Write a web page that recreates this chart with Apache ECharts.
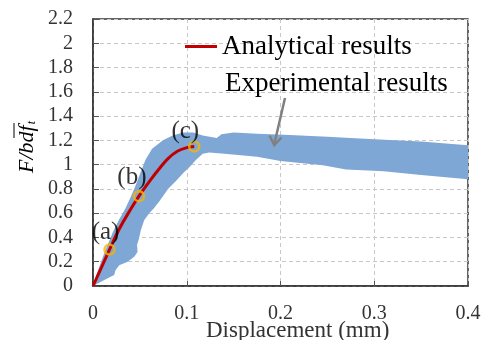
<!DOCTYPE html>
<html>
<head>
<meta charset="utf-8">
<script src="https://cdn.jsdelivr.net/npm/echarts@6/dist/echarts.min.js"></script>
<style>html,body{margin:0;padding:0;background:#fff}#c{width:484px;height:340px}</style>
</head>
<body>
<div id="c"></div>
<script>
// ---- data ----
var xTicks = [0, 0.1, 0.2, 0.3, 0.4];
var yTicks = [0, 0.2, 0.4, 0.6, 0.8, 1, 1.2, 1.4, 1.6, 1.8, 2, 2.2];
var analyticalX = [0, 0.01, 0.0176, 0.028, 0.04, 0.049, 0.06, 0.07, 0.08, 0.09, 0.1, 0.108];
var analyticalY = [0, 0.17, 0.30, 0.47, 0.63, 0.74, 0.86, 0.96, 1.05, 1.11, 1.14, 1.15];
var stageNames = ['(a)', '(b)', '(c)'];
var stageX = [0.0176, 0.049, 0.108];
var stageY = [0.30, 0.74, 1.15];
var expUpper = [[0,0],[0.004,0.10],[0.011,0.25],[0.021,0.44],[0.028,0.55],[0.034,0.63],[0.0395,0.72],[0.045,0.82],[0.050,0.92],[0.056,1.04],[0.063,1.13],[0.0746,1.20],[0.085,1.24],[0.096,1.265],[0.107,1.265],[0.117,1.24],[0.132,1.22],[0.137,1.25],[0.15,1.265],[0.175,1.255],[0.21,1.245],[0.25,1.23],[0.3,1.21],[0.35,1.19],[0.4,1.16]];
var expLower = [[0.4,0.88],[0.35,0.915],[0.31,0.945],[0.27,0.96],[0.245,0.995],[0.2,1.03],[0.175,1.065],[0.14,1.09],[0.124,1.10],[0.117,1.09],[0.110,1.04],[0.103,0.98],[0.096,0.93],[0.089,0.87],[0.080,0.80],[0.071,0.70],[0.065,0.64],[0.060,0.60],[0.0547,0.544],[0.051,0.46],[0.049,0.39],[0.047,0.34],[0.0475,0.28],[0.044,0.24],[0.037,0.20],[0.028,0.17],[0.024,0.13],[0.0226,0.09],[0.012,0.05],[0,0]];

// ---- styles ----
var SERIF = '"Liberation Serif","Times New Roman",serif';
var stageOffsets = [[-4,-17],[-7,-19],[-9,-15]];
var bandPoly = expUpper.concat(expLower);

var chart = echarts.init(document.getElementById('c'), null, {renderer:'canvas'});
var option = {
  animation: false,
  backgroundColor: '#fff',
  grid: {left: 93, right: 16, top: 19, bottom: 54, show: true, borderColor: '#333', borderWidth: 1.5, backgroundColor: 'transparent'},
  xAxis: {
    type: 'value', min: xTicks[0], max: xTicks[xTicks.length-1], interval: 0.1,
    axisLine: {show: true, lineStyle: {color: '#333', width: 1.5}},
    axisTick: {show: true, inside: true, length: 5, lineStyle: {color: '#555'}},
    axisLabel: {color: '#333', fontFamily: SERIF, fontSize: 20, margin: 18},
    splitLine: {show: true, lineStyle: {color: '#c8c8c8', type: [4,3], width: 1}}
  },
  yAxis: {
    type: 'value', min: yTicks[0], max: yTicks[yTicks.length-1], interval: 0.2,
    axisLine: {show: true, lineStyle: {color: '#333', width: 1.5}},
    axisTick: {show: true, inside: true, length: 6, lineStyle: {color: '#555'}},
    axisLabel: {color: '#333', fontFamily: SERIF, fontSize: 20, margin: 20,
      formatter: function(v){ return String(Math.round(v*10)/10); }},
    splitLine: {show: true, lineStyle: {color: '#c8c8c8', type: [4,3], width: 1}}
  },
  legend: {
    data: ['Analytical results'], left: 185, top: 33, padding: 0, icon: 'rect',
    itemWidth: 32, itemHeight: 3, itemGap: 8,
    textStyle: {fontFamily: SERIF, fontSize: 27, color: '#000'}
  },
  series: [
    {
      name: 'Experimental results', type: 'custom', z: 1,
      data: bandPoly,
      renderItem: function(params, api){
        if (params.dataIndex !== 0) return null;
        var pts = bandPoly.map(function(p){ return api.coord(p); });
        return {type: 'polygon', shape: {points: pts}, style: {fill: '#7fa7d5'}};
      },
      clip: true, silent: true
    },
    {
      name: 'Analytical results', type: 'line', z: 3, smooth: 0.4, showSymbol: false,
      data: analyticalX.map(function(x,i){ return [x, analyticalY[i]]; }),
      lineStyle: {color: '#c00000', width: 3}, itemStyle: {color: '#c00000'}
    },
    {
      name: 'stages', type: 'scatter', z: 4, symbol: 'circle', symbolSize: 10,
      itemStyle: {color: 'rgba(0,0,0,0)', borderColor: '#f7b400', borderWidth: 2.5},
      data: stageX.map(function(x,i){
        return {value: [x, stageY[i]], name: stageNames[i],
          label: {show: true, position: 'inside', offset: stageOffsets[i], formatter: '{b}',
            fontFamily: SERIF, fontSize: 25, color: '#000'}};
      })
    }
  ],
  graphic: [
    {type: 'text', left: 225, top: 70, style: {text: 'Experimental results', font: '27px ' + SERIF, fill: '#000'}, z: 10},
    {type: 'line', shape: {x1: 285, y1: 98, x2: 274.3, y2: 144}, style: {stroke: '#808080', lineWidth: 2.5}, z: 10},
    {type: 'polyline', shape: {points: [[269.5,135.5],[274.3,145],[281.5,137.5]]}, style: {stroke: '#808080', lineWidth: 2.5, fill: null}, z: 10},
    {type: 'text', left: 206, top: 319, style: {text: 'Displacement (mm)', font: '23px ' + SERIF, fill: '#333'}, z: 10},
    {type: 'group', x: 27, y: 147, rotation: Math.PI/2, z: 10, children: [
      {type: 'text', x: 0, y: 0, style: {text: '{a|F/bdf}{s|t}', align: 'center', verticalAlign: 'middle',
        rich: {a: {font: 'italic 22px ' + SERIF, fill: '#000'}, s: {font: 'italic 12px ' + SERIF, fill: '#000', padding: [10,0,0,1]}}}},
      {type: 'line', shape: {x1: 9, y1: -13, x2: 24, y2: -13}, style: {stroke: '#000', lineWidth: 1}}
    ]}
  ]
};
chart.setOption(option);
</script>
</body>
</html>
